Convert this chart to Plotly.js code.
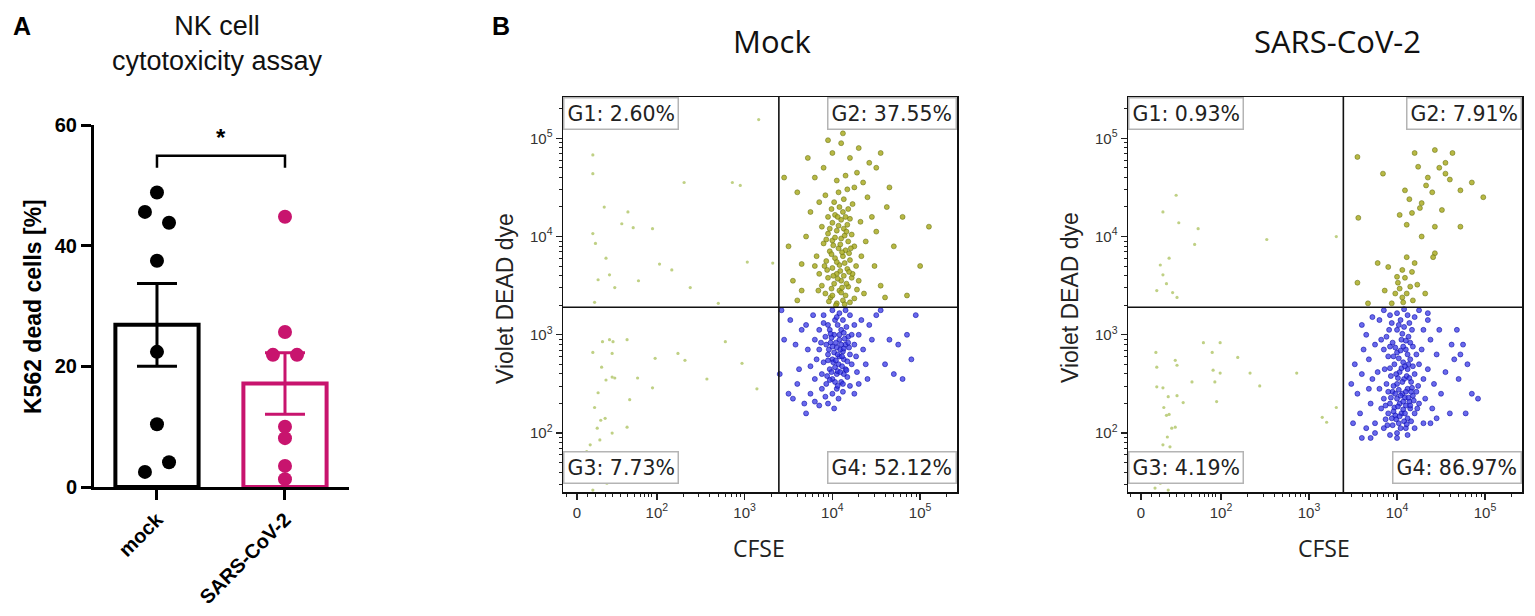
<!DOCTYPE html>
<html>
<head>
<meta charset="utf-8">
<script src="https://cdn.plot.ly/plotly-3.0.1.min.js"></script>
<style>html,body{margin:0;padding:0;background:#fff;}#chart{width:1535px;height:616px;}</style>
</head>
<body>
<div id="chart"></div>
<script>
// ---------------- Panel A data ----------------
const groups = ['mock', 'SARS-CoV-2'];
const mockDead = [48.8, 45.6, 43.8, 37.5, 22.4, 10.4, 4.1, 2.5];
const sarsDead = [44.8, 25.7, 21.9, 21.9, 10.0, 8.1, 3.5, 1.3];

// ---------------- Panel B data (display scale: decades, biexponential below 10^2) ----------------
const xTickLabels = ['0', '10<sup>2</sup>', '10<sup>3</sup>', '10<sup>4</sup>', '10<sup>5</sup>'];
const yTickLabels = ['10<sup>2</sup>', '10<sup>3</sup>', '10<sup>4</sup>', '10<sup>5</sup>'];
const gateLabelsMock = ['G1: 2.60%', 'G2: 37.55%', 'G3: 7.73%', 'G4: 52.12%'];
const gateLabelsSars = ['G1: 0.93%', 'G2: 7.91%', 'G3: 4.19%', 'G4: 86.97%'];
const gateCFSE = 3.39;
const gateDead = 3.28;

const mockG1 = [[1.27,4.83],[1.27,4.64],[1.40,4.30],[1.67,4.25],[1.60,4.13],[1.73,4.09],[1.95,4.08],[1.27,4.03],[1.30,3.93],[1.42,3.78],[1.33,3.56],[1.46,3.61],[1.52,3.48],[1.29,3.33],[2.31,4.55],[2.86,4.55],[2.95,4.52],[3.16,5.19],[2.03,3.72],[2.17,3.66],[2.38,3.48],[2.70,3.32],[3.03,3.74],[3.32,3.73],[1.79,3.55]];
const mockG3 = [[1.27,2.82],[1.38,2.93],[1.50,2.93],[1.49,2.81],[1.66,2.95],[1.37,2.67],[1.42,2.54],[1.49,2.57],[1.52,2.56],[1.33,2.41],[1.29,2.26],[1.36,2.13],[1.41,2.15],[1.32,2.05],[1.49,2.00],[1.24,1.88],[1.20,1.81],[1.35,1.93],[1.32,1.69],[1.38,1.52],[1.27,1.42],[1.43,1.49],[1.78,2.56],[1.69,2.34],[1.66,2.06],[1.98,2.76],[1.95,2.46],[2.24,2.81],[2.32,2.74],[2.57,2.55],[2.78,2.93],[2.97,2.71],[3.14,2.45],[1.46,2.95]];
const mockG2 = [[4.05,3.32],[4.12,3.35],[3.98,3.38],[4.20,3.33],[3.92,3.42],[4.08,3.45],[4.15,3.40],[4.25,3.37],[3.88,3.50],[4.02,3.52],[4.10,3.55],[4.18,3.49],[4.28,3.46],[3.95,3.58],[4.05,3.62],[4.13,3.60],[4.22,3.58],[3.85,3.62],[4.00,3.68],[4.08,3.71],[4.17,3.67],[4.27,3.70],[3.93,3.75],[4.03,3.78],[4.12,3.80],[4.20,3.76],[3.82,3.80],[3.97,3.85],[4.07,3.88],[4.15,3.86],[4.25,3.90],[3.90,3.93],[4.00,3.96],[4.10,3.98],[4.18,3.95],[3.95,4.03],[4.05,4.06],[4.13,4.08],[4.22,4.02],[3.88,4.10],[4.00,4.14],[4.10,4.17],[4.17,4.12],[4.03,4.22],[4.12,4.25],[3.95,4.20],[4.08,4.30],[4.18,4.28],[4.02,4.35],[4.13,4.38],[4.23,4.33],[3.92,4.42],[4.07,4.45],[4.17,4.48],[4.00,3.40],[4.10,3.43],[4.16,3.52],[4.06,3.57],[3.99,3.47],[4.23,3.62],[4.09,3.65],[3.94,3.66],[4.14,3.73],[4.05,3.74],[3.99,3.82],[4.19,3.83],[4.09,3.92],[4.03,3.99],[4.14,4.01],[4.07,4.11],[3.97,4.08],[4.20,4.18],[3.84,3.45],[3.80,3.70],[4.30,3.55],[4.33,3.80],[4.04,3.30],[4.14,3.31],[3.96,3.34],[4.11,3.48],[4.01,3.60],[4.19,3.64],[3.91,3.70],[4.11,3.84],[4.01,3.91],[4.21,3.88],[3.93,3.97],[4.16,4.05],[4.06,4.20],[3.99,4.28],[4.15,4.20],[3.60,3.35],[3.55,3.55],[3.65,3.72],[3.50,3.90],[3.70,4.00],[3.75,4.25],[3.60,4.45],[3.80,4.60],[3.90,4.70],[4.00,4.85],[4.10,4.95],[4.20,4.80],[4.28,4.65],[4.35,4.55],[4.40,4.40],[4.45,4.20],[4.50,4.05],[4.38,3.95],[4.48,3.70],[4.55,3.50],[4.60,3.38],[4.70,3.90],[4.80,4.20],[4.65,4.50],[4.50,4.70],[4.30,4.90],[3.95,4.98],[4.15,4.62],[4.25,4.50],[4.05,4.57],[3.85,4.35],[4.32,4.15],[4.42,4.75],[4.55,4.85],[5.00,3.70],[5.10,4.10],[3.45,4.60],[3.72,4.80],[4.12,5.05],[3.65,3.45],[4.36,3.42],[4.62,4.30],[4.85,3.40]];
const mockG4 = [[4.05,2.87],[3.98,2.92],[4.12,2.83],[4.08,2.95],[3.95,2.80],[4.15,2.90],[4.02,3.00],[4.10,3.05],[3.92,2.98],[4.18,2.98],[4.00,2.75],[4.07,2.70],[3.90,2.72],[4.13,2.75],[4.20,2.80],[3.97,2.65],[4.05,2.60],[4.15,2.65],[3.88,2.60],[4.22,2.70],[4.00,2.55],[4.10,2.52],[3.93,2.50],[4.17,2.57],[4.05,2.45],[3.85,2.85],[3.85,3.05],[4.25,2.90],[4.25,3.10],[3.95,3.10],[4.03,3.15],[4.12,3.15],[4.20,3.20],[3.90,3.20],[4.00,3.25],[4.08,3.22],[4.15,3.25],[3.97,3.05],[4.06,3.10],[4.16,3.08],[3.87,2.92],[4.02,2.82],[4.10,2.90],[3.96,2.85],[4.11,2.68],[4.03,2.67],[3.94,2.58],[4.08,2.78],[4.19,2.87],[4.27,2.78],[3.82,2.75],[3.80,2.95],[4.30,3.00],[4.28,2.62],[3.80,2.55],[3.75,2.68],[4.00,2.40],[4.12,2.42],[3.88,2.45],[3.92,2.37],[4.07,2.35],[4.20,2.48],[4.35,2.85],[3.72,2.85],[3.70,3.10],[4.33,3.15],[3.78,3.20],[4.38,2.70],[4.04,2.92],[4.14,2.96],[3.99,2.97],[4.09,2.85],[3.93,2.90],[4.01,2.72],[4.17,2.73],[4.06,2.63],[4.13,2.60],[4.00,2.88],[4.06,2.80],[4.13,2.86],[4.08,3.00],[3.98,3.01],[4.11,2.78],[4.04,2.74],[3.95,2.74],[4.18,2.92],[4.09,2.62],[3.99,2.62],[4.16,2.64],[4.03,2.52],[3.97,2.54],[4.12,2.50],[4.05,3.18],[4.13,3.02],[3.90,3.12],[4.22,3.00],[4.06,2.48],[3.60,2.50],[3.55,2.35],[3.50,2.40],[3.62,2.65],[3.58,2.90],[3.65,3.05],[3.52,3.15],[3.68,2.30],[3.80,2.32],[3.75,2.40],[3.85,2.28],[3.95,2.30],[4.25,2.40],[4.40,2.55],[4.45,2.95],[4.42,3.10],[4.50,3.20],[4.65,2.95],[4.75,2.90],[4.85,3.00],[4.90,2.75],[4.70,2.60],[4.60,2.70],[4.80,2.55],[4.95,3.20],[4.55,3.25],[4.30,2.50],[3.45,2.95],[3.40,2.60],[3.42,3.25],[4.02,2.25],[3.70,2.20]];

const sarsG1 = [[1.49,4.42],[1.34,4.25],[1.52,4.14],[1.74,4.08],[1.70,3.92],[1.31,3.71],[1.41,3.78],[1.34,3.61],[1.38,3.52],[1.27,3.45],[1.45,3.43],[1.50,3.38],[2.52,3.97],[3.31,4.00]];
const sarsG3 = [[1.26,2.82],[1.27,2.67],[1.48,2.74],[1.50,2.69],[1.27,2.47],[1.34,2.46],[1.40,2.37],[1.50,2.38],[1.35,2.26],[1.38,2.18],[1.41,2.19],[1.44,2.05],[1.48,2.06],[1.39,1.96],[1.34,1.88],[1.42,1.86],[1.31,1.49],[1.25,1.44],[1.40,1.42],[1.80,2.92],[1.90,2.82],[1.99,2.92],[1.91,2.64],[1.99,2.61],[2.19,2.77],[2.33,2.61],[1.93,2.52],[1.67,2.52],[2.44,2.48],[1.95,2.32],[2.86,2.61],[3.15,2.16],[3.20,2.11],[3.31,2.26],[1.57,2.31]];
const sarsG2 = [[4.20,4.85],[4.63,4.85],[4.43,4.88],[4.55,4.75],[3.55,4.81],[3.84,4.64],[4.28,4.34],[4.26,4.29],[4.09,4.47],[4.40,4.45],[4.72,4.47],[4.85,4.55],[4.98,4.40],[3.56,4.19],[4.11,4.12],[4.43,4.10],[4.72,4.10],[4.28,4.00],[4.55,4.64],[4.35,4.60],[4.17,4.24],[4.51,4.27],[4.03,4.22],[4.24,4.71],[4.43,3.83],[4.06,3.66],[4.09,3.58],[4.01,3.53],[4.15,3.49],[3.98,3.42],[4.06,3.38],[4.11,3.79],[4.20,3.73],[3.90,3.69],[3.94,3.32],[4.07,3.33],[4.23,3.51],[4.32,3.42],[3.86,3.45],[3.67,3.32],[4.17,3.64],[4.00,3.59],[4.11,3.42],[4.03,3.47],[4.18,3.35],[3.55,3.53],[3.78,3.73],[4.41,3.79],[4.33,4.52],[4.48,4.70],[4.14,4.38],[4.60,4.58]];
const sarsG4 = [[4.06,2.40],[4.00,2.35],[4.12,2.45],[3.95,2.42],[4.18,2.38],[4.03,2.30],[4.10,2.28],[3.92,2.30],[4.15,2.25],[4.05,2.20],[3.98,2.18],[4.12,2.15],[3.90,2.20],[4.20,2.20],[4.02,2.10],[4.10,2.05],[3.95,2.08],[4.25,2.30],[3.85,2.35],[3.88,2.50],[4.00,2.50],[4.08,2.55],[4.16,2.52],[4.24,2.48],[3.93,2.58],[4.03,2.62],[4.12,2.65],[4.20,2.60],[3.86,2.65],[3.97,2.70],[4.07,2.72],[4.15,2.75],[4.25,2.70],[3.90,2.78],[4.00,2.82],[4.10,2.85],[4.18,2.88],[3.95,2.92],[4.05,2.95],[4.13,2.98],[3.88,2.98],[4.00,3.05],[4.08,3.08],[4.17,3.05],[3.94,3.12],[4.04,3.15],[4.12,3.20],[4.00,3.22],[4.08,3.26],[3.92,3.20],[4.20,3.18],[4.02,2.44],[4.09,2.36],[3.97,2.26],[4.14,2.32],[4.07,2.24],[3.93,2.36],[4.22,2.42],[4.01,2.56],[4.11,2.58],[3.96,2.48],[4.17,2.46],[4.05,2.66],[3.92,2.66],[4.13,2.70],[4.02,2.76],[4.22,2.80],[3.85,2.85],[4.07,2.88],[3.98,2.87],[4.15,2.92],[4.06,3.01],[3.91,3.05],[4.14,3.12],[3.99,2.14],[4.16,2.12],[4.08,2.12],[3.87,2.14],[4.04,2.05],[3.82,2.25],[3.80,2.45],[4.30,2.55],[4.32,2.35],[3.78,2.62],[4.28,2.85],[3.82,2.95],[4.30,3.05],[3.80,3.15],[4.04,2.38],[4.10,2.42],[3.98,2.40],[4.07,2.32],[4.13,2.36],[4.01,2.27],[4.09,2.20],[3.96,2.22],[4.15,2.28],[4.03,2.17],[4.11,2.09],[3.94,2.15],[4.19,2.33],[3.90,2.42],[4.06,2.52],[3.99,2.60],[4.14,2.56],[4.09,2.68],[3.96,2.78],[4.18,2.68],[4.04,2.84],[4.12,2.80],[3.92,2.88],[4.10,2.94],[4.02,3.10],[4.16,2.42],[3.87,2.28],[4.23,2.25],[4.00,2.00],[3.89,2.08],[3.70,2.30],[3.72,2.55],[3.68,2.75],[3.75,2.90],[3.65,3.00],[3.72,3.18],[3.75,2.10],[3.68,2.45],[3.60,2.60],[3.58,2.20],[3.62,2.85],[3.55,2.40],[3.52,2.70],[3.60,3.10],[4.35,2.65],[4.38,2.95],[4.40,2.25],[4.42,2.50],[4.45,2.80],[4.35,3.15],[4.48,3.05],[4.50,2.40],[4.55,2.62],[4.38,2.10],[4.45,2.15],[3.85,2.05],[3.92,1.98],[4.00,1.95],[4.12,1.98],[3.75,2.00],[3.65,2.05],[3.70,1.95],[3.60,1.95],[4.20,2.05],[4.30,2.10],[3.50,2.10],[3.48,2.50],[3.85,3.25],[4.25,3.25],[4.35,3.22],[4.65,2.75],[4.70,2.55],[4.75,2.90],[4.80,2.70],[4.68,3.05],[4.85,2.40],[4.92,2.35],[4.60,2.20],[4.78,2.20],[4.62,2.90],[4.72,2.80]];

// ---------------- helpers ----------------
const W = 1535, H = 616;
const px = v => v / W;
const py = v => 1 - v / H;
const mean = a => a.reduce((s, v) => s + v, 0) / a.length;
const sem = a => { const m = mean(a); const sd = Math.sqrt(a.reduce((s, v) => s + (v - m) * (v - m), 0) / (a.length - 1)); return sd / Math.sqrt(a.length); };
const MAG = '#c8146e';
const ARIAL = 'Liberation Sans, Arial, sans-serif';

// jitter for overlapping dots (style only)
const mockDx = [0, -0.094, 0.094, 0, 0, 0, 0.094, -0.094];
const sarsDx = [0, 0, -0.094, 0.094, 0, 0, 0, 0];

const traces = [];
traces.push({type:'bar', x:[0], y:[mean(mockDead)], width:0.65, xaxis:'x', yaxis:'y',
  marker:{color:'rgba(255,255,255,0)', line:{color:'#000', width:4}},
  error_y:{type:'data', array:[sem(mockDead)], visible:true, color:'#000', thickness:3, width:20},
  hoverinfo:'skip', showlegend:false});
traces.push({type:'bar', x:[1], y:[mean(sarsDead)], width:0.65, xaxis:'x', yaxis:'y',
  marker:{color:'rgba(255,255,255,0)', line:{color:MAG, width:4}},
  error_y:{type:'data', array:[sem(sarsDead)], visible:true, color:MAG, thickness:3, width:20},
  hoverinfo:'skip', showlegend:false});
traces.push({type:'scatter', mode:'markers', xaxis:'x', yaxis:'y', cliponaxis:false,
  x:mockDead.map((v, i) => 0 + mockDx[i]), y:mockDead,
  marker:{color:'#000', size:14}, showlegend:false});
traces.push({type:'scatter', mode:'markers', xaxis:'x', yaxis:'y', cliponaxis:false,
  x:sarsDead.map((v, i) => 1 + sarsDx[i]), y:sarsDead,
  marker:{color:MAG, size:14}, showlegend:false});

// flow scatter
const styleFaint = {color:'rgba(180,200,110,0.85)', size:3.2};
const styleOlive = {color:'rgba(170,172,35,0.85)', size:5, line:{color:'rgba(100,110,15,0.75)', width:0.7}};
const styleBlue = {color:'rgba(55,55,230,0.75)', size:5, line:{color:'rgba(15,15,170,0.85)', width:0.7}};
function addFlow(pts, style, xa, ya) {
  traces.push({type:'scatter', mode:'markers', xaxis:xa, yaxis:ya,
    x:pts.map(p => p[0]), y:pts.map(p => p[1]), marker:style, hoverinfo:'skip', showlegend:false});
}
addFlow(mockG1, styleFaint, 'x2', 'y2');
addFlow(mockG3, styleFaint, 'x2', 'y2');
addFlow(mockG2, styleOlive, 'x2', 'y2');
addFlow(mockG4, styleBlue, 'x2', 'y2');
addFlow(sarsG1, styleFaint, 'x3', 'y3');
addFlow(sarsG3, styleFaint, 'x3', 'y3');
addFlow(sarsG2, styleOlive, 'x3', 'y3');
addFlow(sarsG4, styleBlue, 'x3', 'y3');

// axis decoration ticks
const xMajor = [1.09, 2, 3, 4, 5];
const yMajor = [2, 3, 4, 5];
const logMinor = [];
for (let d = 1; d <= 5; d++) for (let k = 2; k <= 9; k++) logMinor.push(d + Math.log10(k));
const xMinor = [0.97, 1.21, 1.30, 1.41, 1.49, 1.58, 1.67, 1.75, 1.81, 1.86, 1.90, 1.94].concat(logMinor.filter(v => v > 2 && v < 5.42));
const yMinor = logMinor.filter(v => v > 1.40 && v < 5.42);

const tickFontFlow = {family:ARIAL, size:15, color:'#333'};
function flowX(dom, rng, anchor) {
  return {domain:dom, range:rng, anchor:anchor, showline:true, mirror:true, linecolor:'#111', linewidth:1.5,
    ticks:'outside', ticklen:6, tickwidth:1.3, tickcolor:'#222', tickmode:'array', tickvals:xMajor, ticktext:xTickLabels,
    tickfont:tickFontFlow, showgrid:false, zeroline:false,
    minor:{tickmode:'array', tickvals:xMinor, ticks:'outside', ticklen:3, tickwidth:1, tickcolor:'#222', showgrid:false}};
}
function flowY(dom, rng, anchor) {
  return {domain:dom, range:rng, anchor:anchor, showline:true, mirror:true, linecolor:'#111', linewidth:1.5,
    ticks:'outside', ticklen:6, tickwidth:1.3, tickcolor:'#222', tickmode:'array', tickvals:yMajor, ticktext:yTickLabels,
    tickfont:tickFontFlow, showgrid:false, zeroline:false,
    minor:{tickmode:'array', tickvals:yMinor, ticks:'outside', ticklen:3, tickwidth:1, tickcolor:'#222', showgrid:false}};
}

const flowYdom = [py(492), py(97)];
const layout = {
  width:W, height:H, margin:{l:0, r:0, t:0, b:0}, paper_bgcolor:'#fff', plot_bgcolor:'rgba(0,0,0,0)',
  showlegend:false, barmode:'overlay',
  font:{family:ARIAL, color:'#000'},
  xaxis:{domain:[px(94), px(349)], range:[-0.492, 1.5], anchor:'y', tickmode:'array', tickvals:[0, 1], ticktext:groups,
    tickangle:-45, ticks:'outside', ticklen:10, tickwidth:3, tickcolor:'#000', showline:true, linewidth:3, linecolor:'#000',
    showgrid:false, zeroline:false, tickfont:{family:ARIAL, size:20, weight:'bold', color:'#000'}},
  yaxis:{domain:[py(487), py(125)], range:[0, 60], anchor:'x', tickmode:'array', tickvals:[0, 20, 40, 60],
    ticks:'outside', ticklen:10, tickwidth:3, tickcolor:'#000', showline:true, linewidth:3, linecolor:'#000',
    showgrid:false, zeroline:false, tickfont:{family:ARIAL, size:20, weight:'bold', color:'#000'}},
  xaxis2:flowX([px(563), px(957)], [0.93, 5.42], 'y2'),
  yaxis2:flowY(flowYdom, [1.40, 5.42], 'x2'),
  xaxis3:flowX([px(1128), px(1522)], [0.943, 5.42], 'y3'),
  yaxis3:flowY(flowYdom, [1.40, 5.42], 'x3'),
  shapes:[
    {type:'path', xref:'x', yref:'y', path:'M 0,52.9 L 0,54.9 L 1,54.9 L 1,52.9', line:{color:'#000', width:2.5}},
    {type:'line', xref:'x2', yref:'y2 domain', x0:gateCFSE, x1:gateCFSE, y0:0, y1:1, line:{color:'#111', width:1.6}},
    {type:'line', xref:'x2 domain', yref:'y2', x0:0, x1:1, y0:gateDead, y1:gateDead, line:{color:'#111', width:1.6}},
    {type:'line', xref:'x3', yref:'y3 domain', x0:gateCFSE, x1:gateCFSE, y0:0, y1:1, line:{color:'#111', width:1.6}},
    {type:'line', xref:'x3 domain', yref:'y3', x0:0, x1:1, y0:gateDead, y1:gateDead, line:{color:'#111', width:1.6}}
  ],
  annotations:[]
};

const A = layout.annotations;
const txt = (x, y, text, font, extra) => A.push(Object.assign({xref:'paper', yref:'paper', x:px(x), y:py(y), text:text, showarrow:false, font:font, xanchor:'center', yanchor:'middle'}, extra || {}));
txt(22, 26, 'A', {family:ARIAL, size:25, weight:'bold'});
txt(501, 26, 'B', {family:ARIAL, size:25, weight:'bold'});
txt(217, 44, 'NK cell<br>cytotoxicity assay', {family:ARIAL, size:27, color:'#111'});
txt(33, 307, 'K562 dead cells [%]', {family:ARIAL, size:23, weight:'bold'}, {textangle:-90});
A.push({xref:'x', yref:'y', x:0.5, y:55.3, text:'*', showarrow:false, font:{family:ARIAL, size:24, weight:'bold'}, yanchor:'bottom'});

const titleFont = {family:'Open Sans, sans-serif', size:31, color:'#111'};
const axFont = {family:ARIAL, size:23, color:'#222'};
const cfseFont = {family:'Open Sans, sans-serif', size:23, color:'#222'};
const gateFont = {family:'DejaVu Sans, sans-serif', size:20.5, color:'#222'};
function flowLabels(dx, title, gates) {
  txt(772 + dx, 41, title, titleFont);
  txt(505 + dx, 298, 'Violet DEAD dye', axFont, {textangle:-90});
  txt(759 + dx, 548, 'CFSE', cfseFont);
  const box = {bgcolor:'#fff', bordercolor:'#b4b4b4', borderwidth:1.5, borderpad:3};
  txt(563 + dx, 97, gates[0], gateFont, Object.assign({xanchor:'left', yanchor:'top'}, box));
  txt(957 + dx, 97, gates[1], gateFont, Object.assign({xanchor:'right', yanchor:'top'}, box));
  txt(563 + dx, 484, gates[2], gateFont, Object.assign({xanchor:'left', yanchor:'bottom'}, box));
  txt(957 + dx, 484, gates[3], gateFont, Object.assign({xanchor:'right', yanchor:'bottom'}, box));
}
flowLabels(0, 'Mock', gateLabelsMock);
flowLabels(565, 'SARS-CoV-2', gateLabelsSars);

Plotly.newPlot('chart', traces, layout, {staticPlot:true, displayModeBar:false});
</script>
</body>
</html>
